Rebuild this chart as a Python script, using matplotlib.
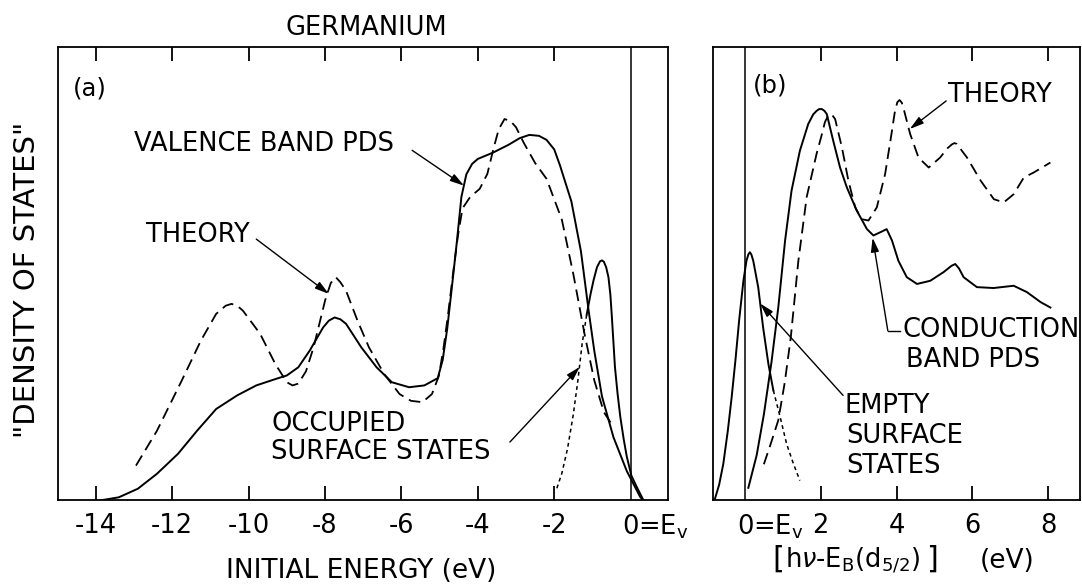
import matplotlib.pyplot as plt

# (a) valence band region, initial energy in eV relative to E_v
valence_e = [-13.9, -13.4, -12.9, -12.4, -11.85, -11.35, -10.85, -10.3, -9.8, -9.3,
             -9.0, -8.7, -8.4, -8.05, -7.9, -7.75, -7.6, -7.45, -7.05, -6.65,
             -6.25, -5.8, -5.4, -5.05, -4.92, -4.8, -4.68, -4.55, -4.43, -4.3,
             -4.15, -4.0, -3.6, -3.2, -2.9, -2.65, -2.4, -2.2, -2.0, -1.85,
             -1.55, -1.3, -1.1, -0.95, -0.75, -0.45, -0.1, 0.25, 0.33]
valence_dos = [0, 0.7, 2.6, 5.9, 10.3, 15.4, 20.2, 23.2, 25.4, 26.8,
               27.6, 29.4, 33.1, 38.2, 39.7, 40.4, 40.0, 39.0, 33.8, 29.4,
               26.1, 25.0, 25.4, 27.0, 31.0, 38.0, 47.0, 57.0, 67.0, 72.0,
               74.3, 75.4, 76.8, 78.5, 80.0, 80.7, 80.5, 79.6, 77.5, 74.0,
               66.0, 55.0, 42.0, 33.0, 23.0, 14.0, 6.5, 0.8, 0]

theory_a_e = [-12.95, -12.4, -11.75, -11.25, -10.85, -10.6, -10.45, -10.3, -10.15, -9.7,
              -9.3, -9.0, -8.85, -8.7, -8.5, -8.3, -8.0, -7.85, -7.72, -7.6,
              -7.45, -7.15, -6.85, -6.45, -6.05, -5.75, -5.45, -5.2, -5.02, -4.9,
              -4.78, -4.65, -4.52, -4.4, -4.2, -3.95, -3.75, -3.58, -3.45, -3.3,
              -3.15, -3.0, -2.8, -2.5, -2.2, -1.8, -1.5, -1.2, -0.95, -0.7, -0.47]
theory_a_dos = [7.7, 15.4, 26.5, 35.3, 41.2, 43.0, 43.4, 43.0, 41.9, 36.8,
                30.1, 26.1, 25.4, 25.8, 28.5, 33.8, 44.1, 48.0, 49.3, 48.2,
                46.3, 39.7, 33.8, 27.9, 23.5, 22.0, 21.7, 23.5, 27.5, 33.5,
                41.0, 50.0, 58.5, 64.5, 67.0, 68.8, 72.1, 78.0, 82.0, 84.2,
                83.8, 82.4, 79.0, 74.5, 71.0, 62.0, 50.0, 36.5, 26.5, 19.5, 16.5]

occ_ss_e = [-1.93, -1.8, -1.65, -1.5, -1.38, -1.27, -1.15, -1.05, -0.97, -0.88,
            -0.8, -0.75, -0.7, -0.64, -0.58, -0.53, -0.49, -0.45, -0.41, -0.34,
            -0.27, -0.18, -0.1, 0.02, 0.16, 0.34]
occ_ss_dos = [2.7, 6.0, 11.5, 19.0, 26.5, 34.5, 41.0, 45.5, 48.6, 51.5,
              52.8, 53.0, 52.7, 51.5, 49.3, 45.5, 40.5, 35.0, 29.5, 23.5,
              18.5, 13.5, 9.7, 5.5, 3.0, 0]
occ_split = 6  # dotted below this index, solid above

# (b) conduction band region, [hv - E_B(d5/2)] in eV
theory_b_e = [0.5, 0.7, 0.88, 1.05, 1.21, 1.41, 1.63, 1.89, 2.02, 2.11,
              2.19, 2.25, 2.31, 2.38, 2.56, 2.73, 2.91, 3.08, 3.26, 3.48,
              3.70, 3.88, 3.95, 4.02, 4.08, 4.14, 4.19, 4.36, 4.58, 4.85,
              5.15, 5.35, 5.46, 5.53, 5.59, 5.86, 6.22, 6.57, 6.83, 7.09,
              7.36, 7.62, 7.84, 8.06]
theory_b_dos = [8.0, 13.0, 17.7, 26.0, 36.0, 52.9, 67.0, 76.5, 80.5, 83.5,
                84.9, 85.3, 85.0, 84.2, 77.9, 70.6, 64.7, 62.1, 61.8, 64.7,
                72.1, 81.6, 85.5, 87.9, 88.4, 87.8, 86.4, 80.9, 75.7, 73.5,
                75.7, 77.8, 78.6, 78.9, 78.7, 75.7, 70.6, 66.5, 65.8, 67.6,
                71.3, 72.4, 73.5, 74.6]

conduction_e = [0.09, 0.31, 0.5, 0.7, 0.88, 1.06, 1.23, 1.45, 1.67, 1.8,
                1.89, 1.96, 2.03, 2.1, 2.16, 2.33, 2.51, 2.69, 2.95, 3.22,
                3.39, 3.57, 3.74, 3.88, 4.05, 4.27, 4.54, 4.89, 5.24, 5.45,
                5.55, 5.65, 5.77, 6.12, 6.56, 7.09, 7.44, 7.80, 8.06]
conduction_dos = [2.8, 10.0, 19.0, 30.5, 42.6, 57.4, 68.4, 77.2, 83.1, 85.2,
                  86.0, 86.4, 86.4, 86.0, 85.3, 79.4, 73.5, 69.1, 64.0, 59.9,
                  58.5, 59.2, 59.9, 57.4, 52.9, 49.3, 47.8, 48.5, 50.4, 51.8,
                  52.2, 51.2, 49.3, 47.1, 46.9, 47.4, 46.0, 43.8, 42.6]

empty_ss_e = [-0.79, -0.68, -0.57, -0.45, -0.35, -0.25, -0.15, -0.04, 0.04, 0.09,
              0.13, 0.17, 0.22, 0.35, 0.48, 0.62, 0.75, 0.93, 1.10, 1.28, 1.45]
empty_ss_dos = [0.4, 3.5, 8.1, 15.5, 22.8, 31.0, 40.0, 48.5, 52.9, 54.3,
                54.8, 54.3, 52.9, 47.1, 38.2, 30.1, 24.3, 18.4, 12.5, 8.1, 4.4]
empty_split = 16  # solid up to this index, dotted after

ticks_a = [-14, -12, -10, -8, -6, -4, -2]
ticks_b = [2, 4, 6, 8]

plt.rcParams['font.family'] = 'DejaVu Sans'
plt.rcParams['mathtext.fontset'] = 'dejavusans'

FS = 18.5
solid = dict(color='k', lw=1.4)
dashed = dict(color='k', lw=1.3, ls=(0, (6.5, 3.5)))
dotted = dict(color='k', lw=1.1, ls=(0, (2.5, 2.2)))
arrow = dict(arrowstyle='-|>,head_length=0.7,head_width=0.2', color='k', lw=1.0,
             shrinkA=0, shrinkB=0, mutation_scale=12)

fig = plt.figure(figsize=(10.82, 5.84), dpi=100)
ax1 = fig.add_axes([0.0533, 0.143, 0.5641, 0.7757])
ax2 = fig.add_axes([0.6594, 0.143, 0.3387, 0.7757])

for ax in (ax1, ax2):
    ax.set_ylim(0, 100)
    ax.set_yticks([])
    ax.axvline(0, color='k', lw=1.1)
    for sp in ax.spines.values():
        sp.set_linewidth(1.3)
    ax.tick_params(axis='x', direction='in', length=10, width=1.3, top=True,
                   pad=9, labelsize=FS)
    ax.annotate('0=E$_\\mathrm{v}$', xy=(0, 0), xycoords=('data', 'axes fraction'),
                xytext=(-6, -9), textcoords='offset points', ha='left', va='top',
                fontsize=FS)

# panel (a)
ax1.set_xlim(-15.0, 0.98)
ax1.set_xticks(ticks_a, labels=['%d' % t for t in ticks_a])
ax1.plot(valence_e, valence_dos, **solid)
ax1.plot(theory_a_e, theory_a_dos, **dashed)
ax1.plot(occ_ss_e[:occ_split + 1], occ_ss_dos[:occ_split + 1], **dotted)
ax1.plot(occ_ss_e[occ_split:], occ_ss_dos[occ_split:], **solid)

ax1.text(-14.6, 91, '(a)', fontsize=FS - 1, va='center')
ax1.text(-13.0, 78.6, 'VALENCE BAND PDS', fontsize=FS, va='center')
ax1.annotate('', xy=(-4.36, 69.5), xytext=(-5.72, 77.3), arrowprops=arrow)
ax1.text(-12.7, 58.5, 'THEORY', fontsize=FS, va='center')
ax1.annotate('', xy=(-7.9, 45.6), xytext=(-9.8, 57.7), arrowprops=arrow)
ax1.text(-9.41, 16.9, 'OCCUPIED', fontsize=FS, va='center')
ax1.text(-9.41, 10.7, 'SURFACE STATES', fontsize=FS, va='center')
ax1.annotate('', xy=(-1.33, 29.5), xytext=(-3.16, 12.9), arrowprops=arrow)

# panel (b)
ax2.set_xlim(-0.83, 8.84)
ax2.set_xticks(ticks_b, labels=['%d' % t for t in ticks_b])
ax2.plot(conduction_e, conduction_dos, **solid)
ax2.plot(theory_b_e, theory_b_dos, **dashed)
ax2.plot(empty_ss_e[:empty_split + 1], empty_ss_dos[:empty_split + 1], **solid)
ax2.plot(empty_ss_e[empty_split:], empty_ss_dos[empty_split:], **dotted)

ax2.text(0.21, 91.7, '(b)', fontsize=FS - 1, va='center')
ax2.text(5.36, 89.5, 'THEORY', fontsize=FS, va='center')
ax2.annotate('', xy=(4.35, 82.0), xytext=(5.31, 88.2), arrowprops=arrow)
ax2.text(4.17, 37.7, 'CONDUCTION', fontsize=FS, va='center')
ax2.text(4.26, 31.1, 'BAND PDS', fontsize=FS, va='center')
ax2.plot([4.08, 3.77], [37.5, 37.5], color='k', lw=1.0)
ax2.annotate('', xy=(3.37, 58.0), xytext=(3.77, 37.5), arrowprops=arrow)
ax2.text(2.63, 20.8, 'EMPTY', fontsize=FS, va='center')
ax2.text(2.67, 14.2, 'SURFACE', fontsize=FS, va='center')
ax2.text(2.67, 7.6, 'STATES', fontsize=FS, va='center')
ax2.annotate('', xy=(0.40, 43.5), xytext=(2.59, 23.2), arrowprops=arrow)

fig.text(0.3383, 0.9529, 'GERMANIUM', fontsize=FS, ha='center', va='center')
fig.text(0.0254, 0.5205, '"DENSITY OF STATES"', fontsize=21, rotation=90,
         ha='center', va='center')
fig.text(0.3336, 0.0223, 'INITIAL ENERGY (eV)', fontsize=19, ha='center', va='center')

# bracketed axis label of panel (b), brackets set larger than the text
base = 1 - 568 / 584
fig.text(772 / 1082, base, '[', fontsize=22, va='baseline')
fig.text(785 / 1082, base, r'h$\nu$-E$_\mathrm{B}$(d$_{5/2}$)', fontsize=18.5,
         va='baseline')
fig.text(926 / 1082, base, ']', fontsize=22, va='baseline')
fig.text(980 / 1082, base, '(eV)', fontsize=19, va='baseline')

fig.savefig('out.png', dpi=100)
